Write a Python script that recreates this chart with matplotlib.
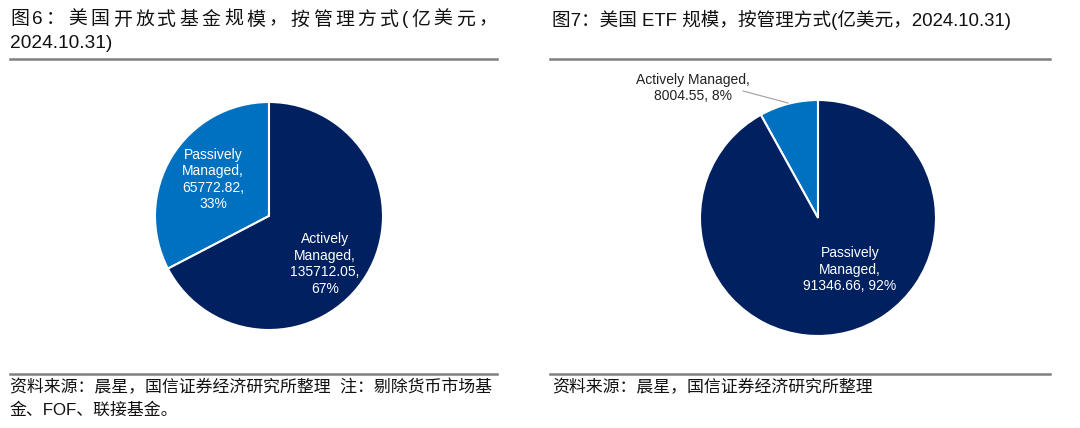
import matplotlib
matplotlib.use("Agg")
import matplotlib.pyplot as plt

plt.rcParams['font.family'] = ['Liberation Sans', 'Noto Sans CJK SC', 'DejaVu Sans']

# data
fund_labels = ["Passively Managed", "Actively Managed"]
fund_values = [65772.82, 135712.05]
etf_labels = ["Actively Managed", "Passively Managed"]
etf_values = [8004.55, 91346.66]

title6_l1 = "图6：美国开放式基金规模，按管理方式(亿美元，"
title6_l2 = "2024.10.31)"
title7 = "图7：美国 ETF 规模，按管理方式(亿美元，2024.10.31)"
src6_l1 = "资料来源：晨星，国信证券经济研究所整理  注：剔除货币市场基"
src6_l2 = "金、FOF、联接基金。"
src7 = "资料来源：晨星，国信证券经济研究所整理"

light = "#0070C0"
dark = "#002060"

W, H = 1080, 428
fig = plt.figure(figsize=(W / 100, H / 100), dpi=100)


def px(x, y):
    return x / W, 1 - y / H


def pie_axes(cx, cy, r):
    ax = fig.add_axes([(cx - r) / W, 1 - (cy + r) / H, 2 * r / W, 2 * r / H])
    return ax


def fix(ax):
    ax.set_xlim(-1, 1)
    ax.set_ylim(-1, 1)
    ax.axis("off")


def justify(text, x0, x1, y, size):
    r = fig.canvas.get_renderer()
    ws = []
    for ch in text:
        t = fig.text(0, 0, ch, fontsize=size)
        ws.append(t.get_window_extent(r).width)
        t.remove()
    gap = (x1 - x0 - sum(ws)) / (len(text) - 1)
    x = x0
    for ch, w in zip(text, ws):
        fig.text(*px(x, y), ch, fontsize=size, va="center", ha="left", color="#111111")
        x += w + gap


# titles
justify(title6_l1, 10, 497, 20, 13.6)
fig.text(*px(10, 44), title6_l2, fontsize=13.8, va="center", color="#111111")
fig.text(*px(552, 20), title7, fontsize=13.4, va="center", color="#111111")

# rules
for (a, b) in [(10, 497), (550, 1050)]:
    for y in (59, 374):
        fig.add_artist(plt.Line2D([a / W, b / W], [1 - y / H, 1 - y / H],
                                  color="#808080", lw=1.8))

# sources
fig.text(*px(10, 387), src6_l1, fontsize=12.2, va="center", color="#111111")
fig.text(*px(10, 410), src6_l2, fontsize=12.2, va="center", color="#111111")
fig.text(*px(552, 387), src7, fontsize=12.2, va="center", color="#111111")


def lab(name, v, total, sep_last="\n"):
    return name.replace(" ", "\n") + ",\n" + f"{v:.2f}," + sep_last + f"{v / total * 100:.0f}%"


# left pie
ax1 = pie_axes(269, 216, 114)
ax1.pie(fund_values, colors=[light, dark], startangle=90, counterclock=True,
        radius=1, wedgeprops=dict(edgecolor="white", linewidth=1.5))
fix(ax1)
tot = sum(fund_values)
ax1.text(-0.49, 0.32, lab(fund_labels[0], fund_values[0], tot), color="white",
         ha="center", va="center", fontsize=10, linespacing=1.22)
ax1.text(0.49, -0.42, lab(fund_labels[1], fund_values[1], tot), color="white",
         ha="center", va="center", fontsize=10, linespacing=1.22)

# right pie
ax2 = pie_axes(818, 218, 118)
ax2.pie(etf_values, colors=[light, dark], startangle=90, counterclock=True,
        radius=1, wedgeprops=dict(edgecolor="white", linewidth=1.5))
fix(ax2)
tot = sum(etf_values)
ax2.text(0.27, -0.44, lab(etf_labels[1], etf_values[1], tot, " "), color="white",
         ha="center", va="center", fontsize=10, linespacing=1.22)
ax2.text(-1.06, 1.10, f"{etf_labels[0]},\n{etf_values[0]:.2f}, {etf_values[0] / tot * 100:.0f}%",
         color="#222222", ha="center", va="center", fontsize=10, linespacing=1.15)
ax2.plot([(743 - 818) / 118, (788 - 818) / 118], [(218 - 91) / 118, (218 - 103) / 118],
         color="#a0a0a0", lw=0.8, clip_on=False)

fig.savefig("out.png", dpi=100)
